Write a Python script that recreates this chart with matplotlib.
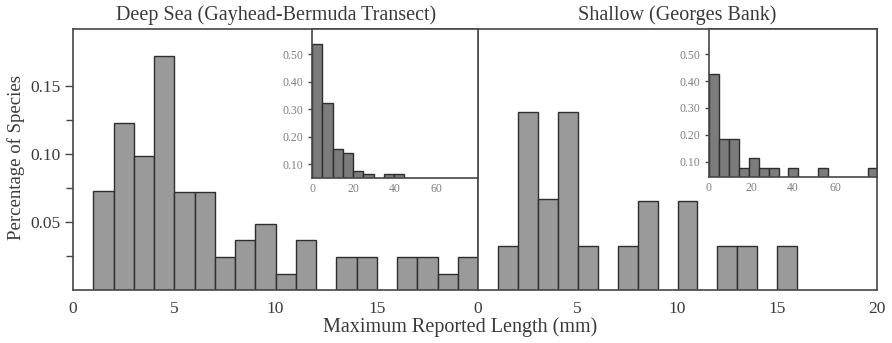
import matplotlib
matplotlib.use("Agg")
import matplotlib.pyplot as plt
import numpy as np

plt.rcParams['font.family'] = ['Liberation Serif', 'DejaVu Serif']

# ---- data ----
deep_edges = list(range(1, 20))
deep_vals = [0.073, 0.123, 0.0986, 0.172, 0.072, 0.072, 0.024, 0.0368, 0.0486,
             0.0118, 0.0368, 0.0, 0.024, 0.024, 0.0, 0.024, 0.024, 0.0118, 0.024]
shallow_edges = list(range(1, 16))
shallow_vals = [0.0326, 0.131, 0.0667, 0.131, 0.0326, 0.0, 0.0326, 0.0655, 0.0,
                0.0655, 0.0, 0.0326, 0.0326, 0.0, 0.0326]

deep_inset_width = 4.95
deep_inset_vals = [0.536, 0.321, 0.155, 0.139, 0.076, 0.0625, 0.0, 0.064, 0.064]
shallow_inset_width = 4.73
shallow_inset_vals = [0.425, 0.183, 0.183, 0.078, 0.115, 0.078, 0.078, 0.0, 0.078,
                      0.0, 0.0, 0.078, 0.0, 0.0, 0.0, 0.0, 0.078]

main_yticks = [0.05, 0.10, 0.15]
main_yminor = [0.025, 0.075, 0.125]
left_xticks = [0, 5, 10, 15]
right_xticks = [0, 5, 10, 15, 20]
inset_xticks = [0, 20, 40, 60]
inset_yticks = [0.10, 0.20, 0.30, 0.40, 0.50]

titles = ["Deep Sea (Gayhead-Bermuda Transect)", "Shallow (Georges Bank)"]
xlabel = "Maximum Reported Length (mm)"
ylabel = "Percentage of Species"

# ---- styling ----
W, H = 892, 343
fig = plt.figure(figsize=(W / 100, H / 100), dpi=100)
TXT = '#3a3a3a'
SPINE = '#474747'
BAR = '#9a9a9a'
IBAR = '#7c7c7c'
EDGE = '#2e2e2e'


def fr(x0, y0, x1, y1):
    return [x0 / W, 1 - y1 / H, (x1 - x0) / W, (y1 - y0) / H]


def style_spines(ax, lw=1.2):
    for s in ax.spines.values():
        s.set_color(SPINE)
        s.set_linewidth(lw)


axL = fig.add_axes(fr(73, 29, 478, 290))
axR = fig.add_axes(fr(478, 29, 877, 290))

for ax, edges, vals, xt in [(axL, deep_edges, deep_vals, left_xticks),
                            (axR, shallow_edges, shallow_vals, right_xticks)]:
    e = [a for a, v in zip(edges, vals) if v > 0]
    v = [b for b in vals if b > 0]
    ax.bar(e, v, width=1.0, align='edge', color=BAR, edgecolor=EDGE, linewidth=1.0)
    ax.set_xlim(0, 20)
    ax.set_ylim(0, 0.192)
    ax.set_xticks(xt)
    ax.set_xticklabels([str(t) for t in xt])
    ax.tick_params(axis='x', length=0, pad=8, labelsize=12.5, labelcolor=TXT)
    style_spines(ax)

axL.set_yticks(main_yticks)
axL.set_yticklabels(["%.2f" % t for t in main_yticks])
axL.set_yticks(main_yminor, minor=True)
axL.tick_params(axis='y', which='major', length=6, width=1.0, color=SPINE,
                labelsize=12.5, labelcolor=TXT, pad=3)
axL.tick_params(axis='y', which='minor', length=5, width=1.0, color=SPINE)
axR.set_yticks([])

# insets
insL = fig.add_axes(fr(312, 29, 478, 177.5))
insR = fig.add_axes(fr(709, 29, 877, 176.7))
for ax, w, vals, ylim in [(insL, deep_inset_width, deep_inset_vals, (0.051, 0.591)),
                          (insR, shallow_inset_width, shallow_inset_vals, (0.044, 0.594))]:
    e = [i * w for i, v in enumerate(vals) if v > 0]
    v = [b for b in vals if b > 0]
    ax.bar(e, v, width=w, align='edge', color=IBAR, edgecolor=EDGE, linewidth=1.0)
    ax.set_xlim(0, 80)
    ax.set_ylim(*ylim)
    ax.set_xticks(inset_xticks)
    ax.set_xticklabels([str(t) for t in inset_xticks])
    ax.set_yticks(inset_yticks)
    ax.set_yticklabels(["%.2f" % t for t in inset_yticks])
    ax.tick_params(axis='x', length=0, pad=4, labelsize=8.5, labelcolor='#808080')
    ax.tick_params(axis='y', length=3, width=1.0, color=SPINE, pad=3,
                   labelsize=8.5, labelcolor='#808080')
    ax.set_facecolor('white')
    style_spines(ax, 1.2)

fig.text(276 / W, 1 - 15 / H, titles[0], ha='center', va='center', fontsize=14.5, color=TXT)
fig.text(677 / W, 1 - 15 / H, titles[1], ha='center', va='center', fontsize=14.5, color=TXT)
fig.text(460 / W, 1 - 327 / H, xlabel, ha='center', va='center', fontsize=14.5, color=TXT)
fig.text(16 / W, 1 - 158 / H, ylabel, ha='center', va='center', rotation=90,
         fontsize=13.5, color=TXT)

fig.savefig("out.png", dpi=100)
